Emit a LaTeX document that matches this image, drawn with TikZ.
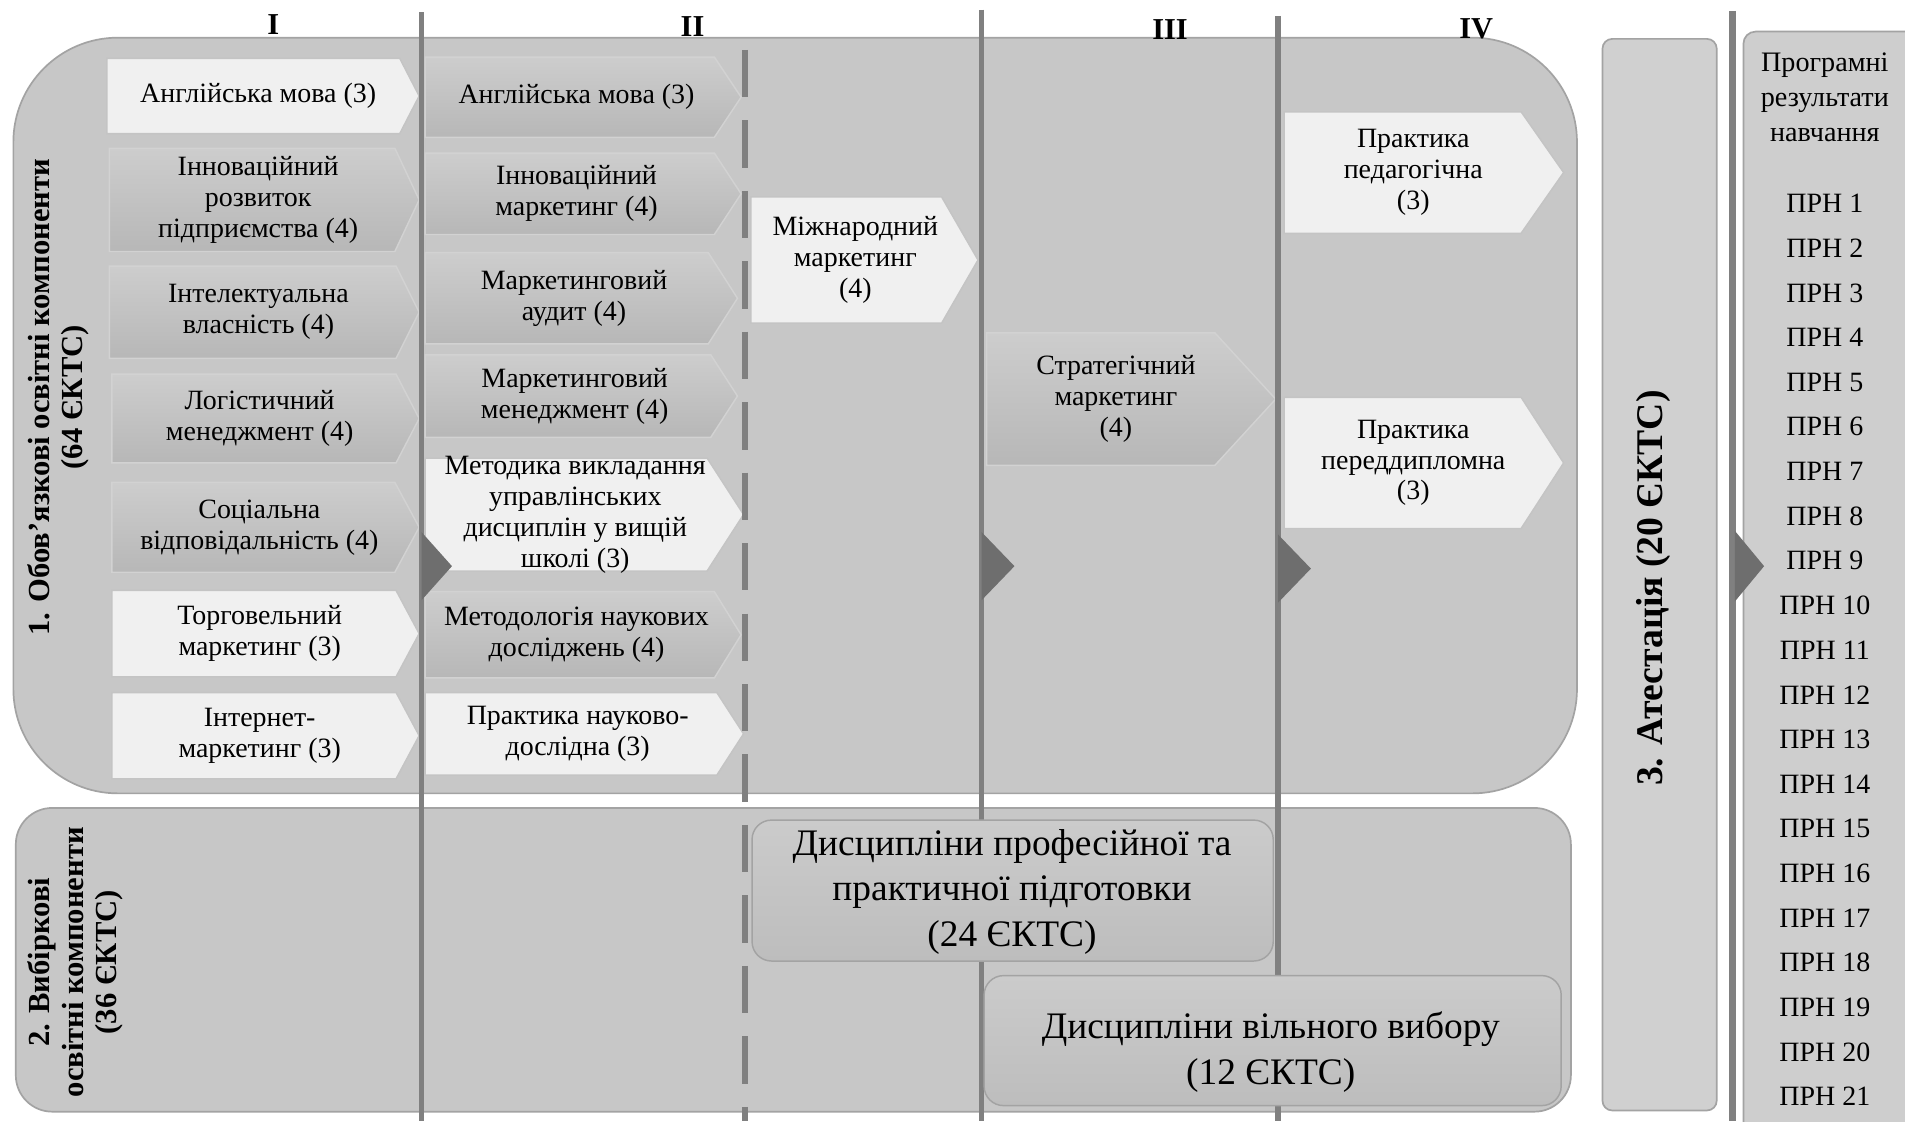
\documentclass[tikz,border=0pt]{standalone}
\usepackage{fontspec}
\setmainfont{Liberation Serif}
\definecolor{bgA}{HTML}{C7C7C7}
\definecolor{bdA}{HTML}{A3A3A3}
\definecolor{chL}{HTML}{F0F0F0}
\definecolor{chLb}{HTML}{C4C4C4}
\definecolor{chMt}{HTML}{CDCDCD}
\definecolor{chMb}{HTML}{B7B7B7}
\definecolor{chMd}{HTML}{D2D2D2}
\definecolor{lnC}{HTML}{808080}
\definecolor{trC}{HTML}{6E6E6E}
\definecolor{atC}{HTML}{D0D0D0}
\definecolor{prC}{HTML}{CECECE}
\definecolor{dsT}{HTML}{CBCBCB}
\definecolor{dsB}{HTML}{BDBDBD}
\newcommand{\chv}[8]{%
  \draw[#7] (#2,#3) -- ({#4-#6},#3) -- (#4,{(#3+#5)/2}) -- ({#4-#6},#5) -- (#2,#5) -- cycle;
  \node[txt] (#1) at ({(#2+#4-#6/2)/2},{(#3+#5)/2}) {#8};}
\tikzset{
  lightch/.style={fill=chL, draw=chLb, line width=0.6pt},
  medch/.style={top color=chMt, bottom color=chMb, draw=chMd, line width=0.6pt},
  txt/.style={align=center, inner sep=0pt, font=\fontsize{11.5}{12.7}\selectfont, text=black},
  vline/.style={draw=lnC, line width=2.2pt},
  dline/.style={draw=lnC, line width=2.4pt, dash pattern=on 19.5pt off 9.5pt},
  tri/.style={fill=trC},
  hdr/.style={inner sep=0pt, font=\bfseries\fontsize{12.5}{13}\selectfont},
  vlab/.style={rotate=90, align=center, inner sep=0pt, font=\bfseries\fontsize{12.6}{13.8}\selectfont},
  dbox/.style={top color=dsT, bottom color=dsB, draw=bdA, line width=0.6pt, rounded corners=8pt},
  dtxt/.style={align=center, inner sep=0pt, font=\fontsize{15.4}{18.7}\selectfont}
}
\begin{document}
\begin{tikzpicture}[x=0.5pt, y=-0.5pt]
\useasboundingbox (0,0) rectangle (1568,923);
\clip (0,0) rectangle (1568,923);
\fill[white] (0,0) rectangle (1568,923);
% big areas
\draw[fill=bgA, draw=bdA, line width=0.7pt, rounded corners=43pt] (11,31) rectangle (1298,653);
\draw[fill=bgA, draw=bdA, line width=0.7pt, rounded corners=15pt] (13,665) rectangle (1293,915);
\draw[fill=atC, draw=bdA, line width=0.7pt, rounded corners=4pt] (1319,32) rectangle (1413,914);
\draw[fill=prC, draw=bdA, line width=0.7pt, rounded corners=5pt] (1435,26) rectangle (1600,950);
% column I
\chv{c1a}{88}{48}{345}{110}{16}{lightch}{Англійська мова (3)}
\chv{c1b}{90}{122}{345}{207}{20}{medch}{Інноваційний\\розвиток\\підприємства (4)}
\chv{c1c}{90}{219}{345}{295}{19}{medch}{Інтелектуальна\\власність (4)}
\chv{c1d}{92}{308}{345}{381}{19}{medch}{Логістичний\\менеджмент (4)}
\chv{c1e}{92}{397}{345}{471}{20}{medch}{Соціальна\\відповідальність (4)}
\chv{c1f}{92}{486}{345}{557}{19}{lightch}{Торговельний\\маркетинг (3)}
\chv{c1g}{92}{570}{345}{641}{19}{lightch}{Інтернет-\\маркетинг (3)}
% column II
\chv{c2a}{350}{47}{610}{113}{22}{medch}{Англійська мова (3)}
\chv{c2b}{350}{126}{610}{193}{22}{medch}{Інноваційний\\маркетинг (4)}
\chv{c2c}{350}{208}{607}{283}{24}{medch}{Маркетинговий\\аудит (4)}
\chv{c2d}{350}{292}{607}{360}{22}{medch}{Маркетинговий\\менеджмент (4)}
\chv{c2e}{350}{377}{612}{470}{30}{lightch}{Методика викладання\\управлінських\\дисциплін у вищій\\школі (3)}
\chv{c2f}{350}{487}{610}{558}{22}{medch}{Методологія наукових\\досліджень (4)}
\chv{c2g}{350}{570}{612}{638}{22}{lightch}{Практика науково-\\дослідна (3)}
% other semesters
\chv{c3a}{618}{162}{805}{266}{30}{lightch}{Міжнародний\\маркетинг\\(4)}
\chv{c4a}{812}{274}{1050}{383}{50}{medch}{Стратегічний\\маркетинг\\(4)}
\chv{c5a}{1057}{92}{1287}{192}{35}{lightch}{Практика\\педагогічна\\(3)}
\chv{c5b}{1057}{327}{1287}{435}{35}{lightch}{Практика\\переддипломна\\(3)}
% vertical lines
\draw[vline] (347,10) -- (347,923);
\draw[dline] (613,41) -- (613,923);
\draw[vline] (808,8) -- (808,923);
\draw[vline] (1052,13) -- (1052,923);
\draw[draw=lnC, line width=3.2pt] (1426,9) -- (1426,923);
% triangles on lines
\fill[tri] (347,438) -- (372,466) -- (347,494) -- cycle;
\fill[tri] (808,438) -- (835,466) -- (808,494) -- cycle;
\fill[tri] (1052,440) -- (1079,468) -- (1052,496) -- cycle;
\fill[tri] (1428,437) -- (1452,466) -- (1428,495) -- cycle;
% elective boxes
\draw[dbox] (619,675) rectangle (1048,791);
\node[dtxt] (d1) at (833,734) {Дисципліни професійної та\\практичної підготовки\\(24 ЄКТС)};
\draw[dbox] (810,803) rectangle (1285,910);
\node[dtxt] (d2) at (1046,866) {Дисципліни вільного вибору\\(12 ЄКТС)};
% headers
\node[hdr] (h1) at (225,20) {I};
\node[hdr] (h2) at (570,22) {II};
\node[hdr] (h3) at (963,24) {III};
\node[hdr] (h4) at (1215,24) {IV};
% rotated labels
\node[vlab] (l1) at (48,327) {1. Обов’язкові освітні компоненти\\(64 ЄКТС)};
\node[vlab] (l2) at (62,792) {2. Вибіркові\\освітні компоненти\\(36 ЄКТС)};
\node[vlab, font=\bfseries\fontsize{15.5}{17}\selectfont] (l3) at (1361,484) {3. Атестація (20 ЄКТС)};
% outcomes
\node[txt, font=\fontsize{11.6}{14.5}\selectfont] (p0) at (1502,80) {Програмні\\результати\\навчання};
\foreach \i in {1,...,21} {
  \node[txt] (prn\i) at (1502,{167.6+(\i-1)*36.75}) {ПРН \i};
}
\end{tikzpicture}
\end{document}
